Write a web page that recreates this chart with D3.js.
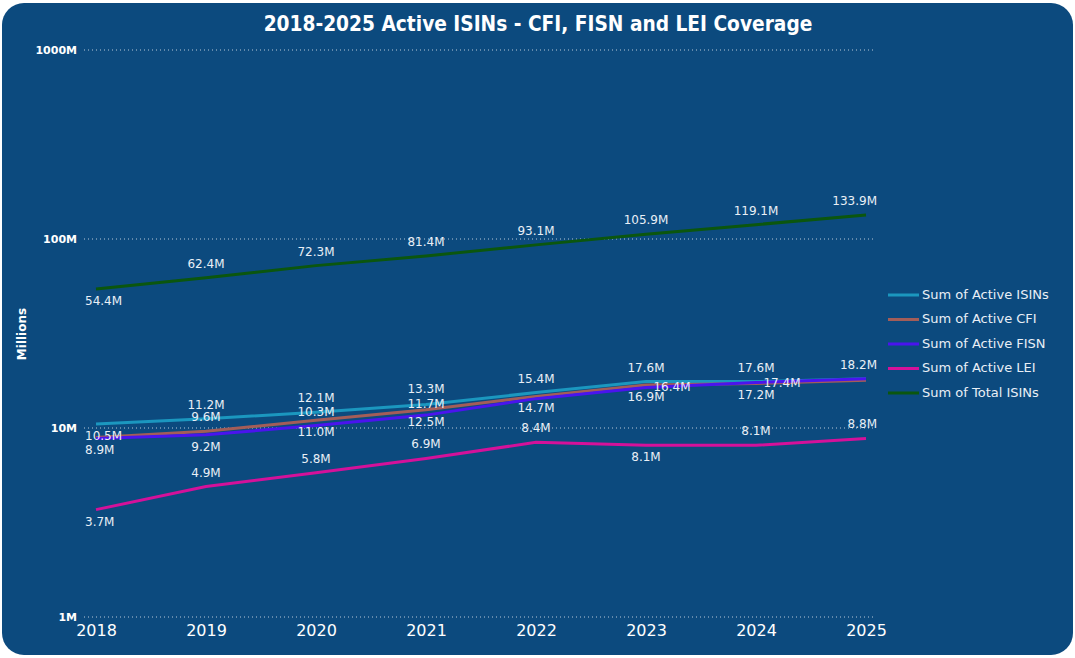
<!DOCTYPE html>
<html>
<head>
<meta charset="utf-8">
<script src="https://cdn.jsdelivr.net/npm/d3@7"></script>
<style>
  body { margin: 0; background: #ffffff; }
  svg text { font-family: "DejaVu Sans", Verdana, sans-serif; }
</style>
</head>
<body>
<div id="chart"></div>
<script>
const years = ["2018", "2019", "2020", "2021", "2022", "2023", "2024", "2025"];
const activeIsins = [10.5, 11.2, 12.1, 13.3, 15.4, 17.6, 17.6, 18.2];
const activeCfi = [8.9, 9.6, 11.0, 12.5, 14.7, 16.9, 17.2, 17.9];
const activeFisn = [8.8, 9.2, 10.3, 11.7, 14.3, 16.4, 17.4, 18.2];
const activeLei = [3.7, 4.9, 5.8, 6.9, 8.4, 8.1, 8.1, 8.8];
const totalIsins = [54.4, 62.4, 72.3, 81.4, 93.1, 105.9, 119.1, 133.9];
const yTicks = [1, 10, 100, 1000];

const series = [
  { name: "Sum of Active ISINs", values: activeIsins, color: "#1b97bf" },
  { name: "Sum of Active CFI", values: activeCfi, color: "#a35d58" },
  { name: "Sum of Active FISN", values: activeFisn, color: "#4a14ee" },
  { name: "Sum of Active LEI", values: activeLei, color: "#d4119a" },
  { name: "Sum of Total ISINs", values: totalIsins, color: "#0b560e" },
];

// label placement: a = above, A = high above, n = near above, b = below,
// r = right of point, null = hidden
const placement = {
  "Sum of Active ISINs": ["b", "a", "a", "A", "a", "a", "a", "a"],
  "Sum of Active CFI": ["b", "a", "b", "b", "b", "b", "b", null],
  "Sum of Active FISN": [null, "b", "a", "n", null, "r", "r", null],
  "Sum of Active LEI": ["b", "a", "a", "a", "a", "b", "a", "a"],
  "Sum of Total ISINs": ["b", "a", "a", "a", "a", "a", "a", "a"],
};
const offset = { a: [0, -13.5], A: [0, -15], n: [0, -11], b: [0, 12.5], r: [26, 0.5] };
const plotLeft = 85, plotRight = 877;

const width = 1075, height = 658;
const svg = d3.select("#chart").append("svg")
  .attr("width", width).attr("height", height);

svg.append("rect")
  .attr("x", 2).attr("y", 3).attr("width", 1071).attr("height", 652)
  .attr("rx", 22).attr("fill", "#0c4a7e");

svg.append("text")
  .attr("x", 538).attr("y", 31)
  .attr("text-anchor", "middle")
  .attr("fill", "#ffffff")
  .attr("font-size", 20.7).attr("font-weight", "bold")
  .style("font-family", "'DejaVu Sans Condensed', sans-serif")
  .text("2018-2025 Active ISINs - CFI, FISN and LEI Coverage");

const x = d3.scalePoint().domain(years).range([96, 866]);
const y = d3.scaleLog().domain([1, 1000]).range([617, 50]);

// gridlines
svg.append("g").selectAll("line").data(yTicks).join("line")
  .attr("x1", 84).attr("x2", 876)
  .attr("y1", d => y(d)).attr("y2", d => y(d))
  .attr("stroke", "#b9c9d9").attr("stroke-width", 1)
  .attr("stroke-dasharray", "1,3");

const yAxis = svg.append("g")
  .attr("transform", "translate(77,0)")
  .call(d3.axisLeft(y).tickValues(yTicks).tickFormat(d => d + "M").tickSize(0).tickPadding(0));
yAxis.select(".domain").remove();
yAxis.selectAll("text")
  .attr("fill", "#ffffff").attr("font-size", 11).attr("font-weight", "bold");

const xAxis = svg.append("g")
  .attr("transform", "translate(0,622)")
  .call(d3.axisBottom(x).tickSize(0).tickPadding(3));
xAxis.select(".domain").remove();
xAxis.selectAll("text").attr("fill", "#ffffff").attr("font-size", 16);

svg.append("text")
  .attr("transform", "translate(26,334) rotate(-90)")
  .attr("text-anchor", "middle")
  .attr("fill", "#ffffff").attr("font-size", 12).attr("font-weight", "bold")
  .text("Millions");

const line = d3.line().x((d, i) => x(years[i])).y(d => y(d));

svg.append("g").selectAll("path").data(series).join("path")
  .attr("d", d => line(d.values))
  .attr("fill", "none")
  .attr("stroke", d => d.color)
  .attr("stroke-width", 3);

// data labels, kept inside the plot area horizontally
series.forEach(s => {
  const pts = s.values
    .map((v, i) => ({ v, i, p: placement[s.name][i] }))
    .filter(d => d.p);
  svg.append("g").selectAll("text").data(pts).join("text")
    .attr("y", d => y(d.v) + offset[d.p][1])
    .attr("text-anchor", "middle")
    .attr("dominant-baseline", "middle")
    .attr("fill", "#e9eff6")
    .attr("font-size", 12)
    .text(d => d.v.toFixed(1) + "M")
    .attr("x", function (d) {
      const half = this.getComputedTextLength() / 2;
      const cx = x(years[d.i]) + offset[d.p][0];
      return Math.min(plotRight - half, Math.max(plotLeft + half, cx));
    });
});

// legend
const legend = svg.append("g").attr("transform", "translate(888,295)");
const item = legend.selectAll("g").data(series).join("g")
  .attr("transform", (d, i) => `translate(0,${i * 24.5})`);
item.append("line")
  .attr("x1", 0).attr("x2", 31)
  .attr("stroke", d => d.color).attr("stroke-width", 3);
item.append("text")
  .attr("x", 34).attr("y", 0)
  .attr("dominant-baseline", "middle")
  .attr("fill", "#e9eff6").attr("font-size", 13)
  .text(d => d.name);
</script>
</body>
</html>
